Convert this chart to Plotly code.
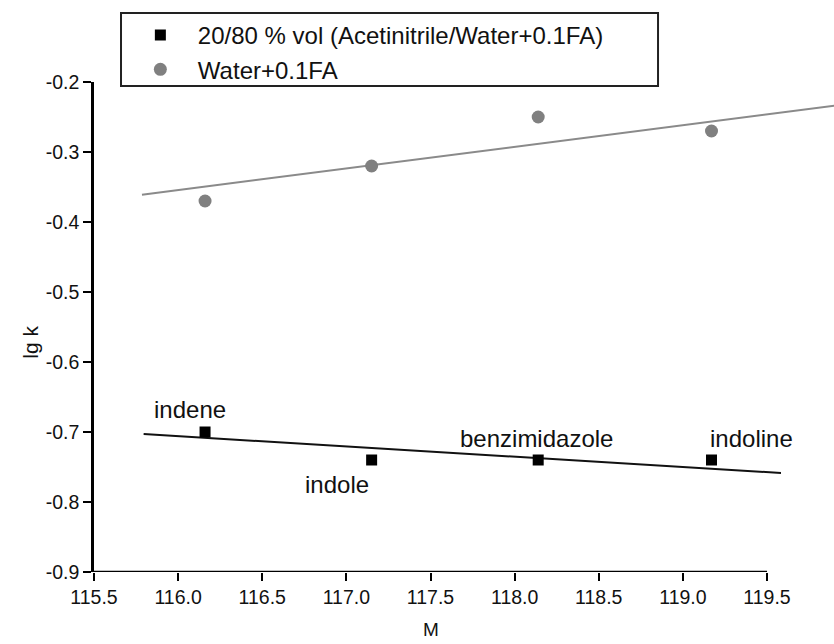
import plotly.graph_objects as go

# ---- data ----
compounds = ["indene", "indole", "benzimidazole", "indoline"]
mass = [116.16, 117.15, 118.14, 119.17]
lgk_acn = [-0.70, -0.74, -0.74, -0.74]
lgk_water = [-0.37, -0.32, -0.25, -0.27]

fit_acn_x = [115.795, 119.583]
fit_acn_y = [-0.703, -0.7586]
fit_water_x = [115.785, 119.90]
fit_water_y = [-0.361, -0.234]

x_ticks = [115.5, 116.0, 116.5, 117.0, 117.5, 118.0, 118.5, 119.0, 119.5]
y_ticks = [-0.9, -0.8, -0.7, -0.6, -0.5, -0.4, -0.3, -0.2]
y_tick_text = ["-0.9", "-0.8", "-0.7", "-0.6", "-0.5", "-0.4", "-0.3", "-0.2"]

label_shift = [(-15, 23), (-35, -24), (-2, 22), (40, 22)]

FONT = "Liberation Sans, Arial, sans-serif"

fig = go.Figure()

fig.add_trace(go.Scatter(x=fit_acn_x, y=fit_acn_y, mode="lines",
                         line=dict(color="#111111", width=2), showlegend=False,
                         hoverinfo="skip"))
fig.add_trace(go.Scatter(x=fit_water_x, y=fit_water_y, mode="lines",
                         line=dict(color="#8a8a8a", width=2), showlegend=False,
                         hoverinfo="skip"))

fig.add_trace(go.Scatter(x=mass, y=lgk_acn, mode="markers",
                         name="20/80 % vol (Acetinitrile/Water+0.1FA)",
                         marker=dict(symbol="square", size=11, color="#000000")))
fig.add_trace(go.Scatter(x=mass, y=lgk_water, mode="markers",
                         name="Water+0.1FA",
                         marker=dict(symbol="circle", size=13, color="#808080")))

for name, xv, yv, (dx, dy) in zip(compounds, mass, lgk_acn, label_shift):
    fig.add_annotation(x=xv, y=yv, text=name, showarrow=False,
                       xshift=dx, yshift=dy, xanchor="center", yanchor="middle",
                       font=dict(family=FONT, size=24, color="#111111"))

# x-axis line only spanning the tick range
fig.add_shape(type="line", xref="x", yref="y", x0=x_ticks[0], x1=x_ticks[-1],
              y0=y_ticks[0], y1=y_ticks[0], line=dict(color="#000000", width=2.5))

# legend frame
fig.add_shape(type="rect", xref="paper", yref="paper",
              x0=0.0365, x1=0.7622, y0=0.9918, y1=1.1408,
              line=dict(color="#222222", width=2), fillcolor="rgba(0,0,0,0)")

fig.add_annotation(x=117.5, xref="x", y=-0.117, yref="paper", text="M",
                   showarrow=False, yanchor="middle",
                   font=dict(family=FONT, size=19, color="#111111"))
fig.add_annotation(x=-0.104, xref="paper", y=0.469, yref="paper", text="lg k",
                   textangle=-90, showarrow=False,
                   font=dict(family=FONT, size=21, color="#111111"))

fig.update_layout(
    width=834, height=644, autosize=False,
    margin=dict(l=94, r=0, t=82, b=72),
    paper_bgcolor="white", plot_bgcolor="white",
    font=dict(family=FONT, size=18, color="#111111"),
    xaxis=dict(range=[115.5, 119.898], tickvals=x_ticks, tickformat=".1f",
               showline=False, showgrid=False, zeroline=False,
               ticks="outside", ticklen=8, tickwidth=2, tickcolor="#000000",
               tickfont=dict(family=FONT, size=19.5, color="#111111")),
    yaxis=dict(range=[-0.9, -0.2], tickvals=y_ticks, ticktext=y_tick_text,
               showline=True, linecolor="#000000", linewidth=2.5,
               showgrid=False, zeroline=False,
               ticks="outside", ticklen=8, tickwidth=2, tickcolor="#000000",
               tickfont=dict(family=FONT, size=19.5, color="#111111")),
    legend=dict(x=0.039, y=1.1408, xanchor="left", yanchor="top",
                bgcolor="rgba(0,0,0,0)", borderwidth=0,
                itemwidth=65, font=dict(family=FONT, size=24, color="#111111")),
    showlegend=True,
)

fig.write_html("out.html", config={"displayModeBar": False},
               post_script="document.body.style.margin='0';")
